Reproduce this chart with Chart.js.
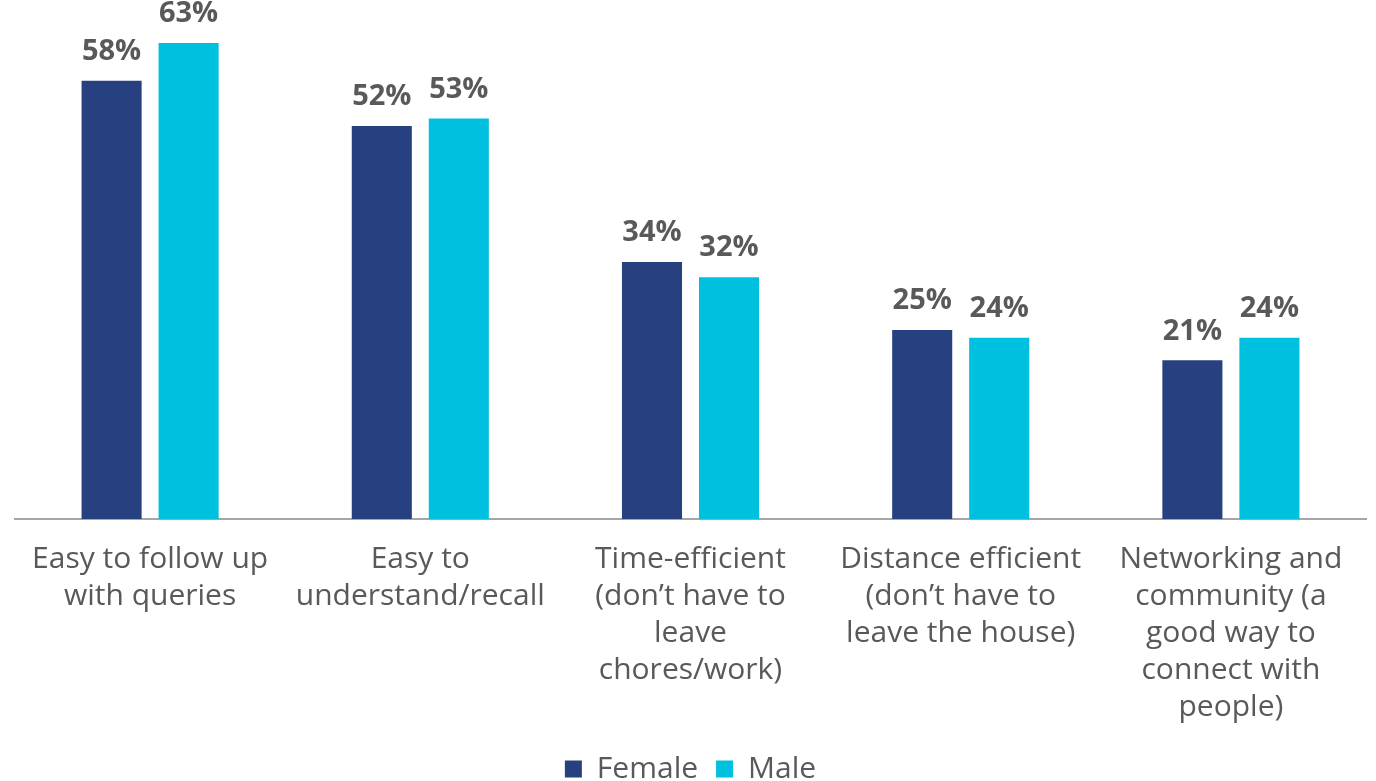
<!DOCTYPE html>
<html>
<head>
<meta charset="utf-8">
<script src="https://cdn.jsdelivr.net/npm/chart.js@4/dist/chart.umd.min.js"></script>
<style>
  html, body { margin: 0; padding: 0; background: #fff; }
  #wrap { width: 1376px; height: 781px; }
</style>
</head>
<body>
<div id="wrap"><canvas id="canvas"></canvas></div>
<script>
// categories (one array per wrapped label)
var categories = [
    ["Easy to follow up", "with queries"],
    ["Easy to", "understand/recall"],
    ["Time-efficient", "(don\u2019t have to", "leave", "chores/work)"],
    ["Distance efficient", "(don\u2019t have to", "leave the house)"],
    ["Networking and", "community (a", "good way to", "connect with", "people)"]
];
var female = [58, 52, 34, 25, 21];
var male = [63, 53, 32, 24, 24];

var FONT = "'Open Sans', sans-serif";
var GREY = "#595959";

// percent labels above every bar
var barLabels = {
    id: "barLabels",
    afterDatasetsDraw: function(chart) {
        var ctx = chart.ctx;
        ctx.save();
        ctx.font = "bold 29px " + FONT;
        ctx.fillStyle = GREY;
        ctx.textAlign = "center";
        ctx.textBaseline = "middle";
        chart.data.datasets.forEach(function(ds, i) {
            chart.getDatasetMeta(i).data.forEach(function(bar, j) {
                ctx.fillText(ds.data[j] + "%", bar.x, bar.y - 29);
            });
        });
        ctx.restore();
    }
};

var ctx = document.getElementById("canvas").getContext("2d");
var config = {
    type: "bar",
    data: {
        labels: categories,
        datasets: [
            {
                label: "Female",
                data: female,
                backgroundColor: "#27407F"
            },
            {
                label: "Male",
                data: male,
                backgroundColor: "#00C0DF"
            }
        ]
    },
    options: {
        responsive: true,
        maintainAspectRatio: false,
        animation: false,
        categoryPercentage: 0.57,
        barPercentage: 0.78,
        layout: { padding: { left: 15, right: 10, top: 24, bottom: -13 } },
        plugins: {
            tooltip: { enabled: false },
            legend: {
                position: "bottom",
                labels: {
                    font: { family: FONT, size: 30 },
                    color: GREY,
                    boxWidth: 17,
                    boxHeight: 17,
                    padding: 18
                }
            }
        },
        scales: {
            x: {
                grid: { display: false },
                border: { display: true, color: "#a6a6a6", width: 2 },
                ticks: {
                    font: { family: FONT, size: 30, lineHeight: 1.233 },
                    color: GREY,
                    padding: 14,
                    maxRotation: 0,
                    autoSkip: false
                },
                // trim the label block so the axis sits where it should
                afterFit: function(scale) { scale.height -= 4; }
            },
            y: {
                display: false,
                min: 0,
                max: 65.5
            }
        }
    },
    plugins: [barLabels]
};
var myChart = new Chart(ctx, config);
</script>
</body>
</html>
